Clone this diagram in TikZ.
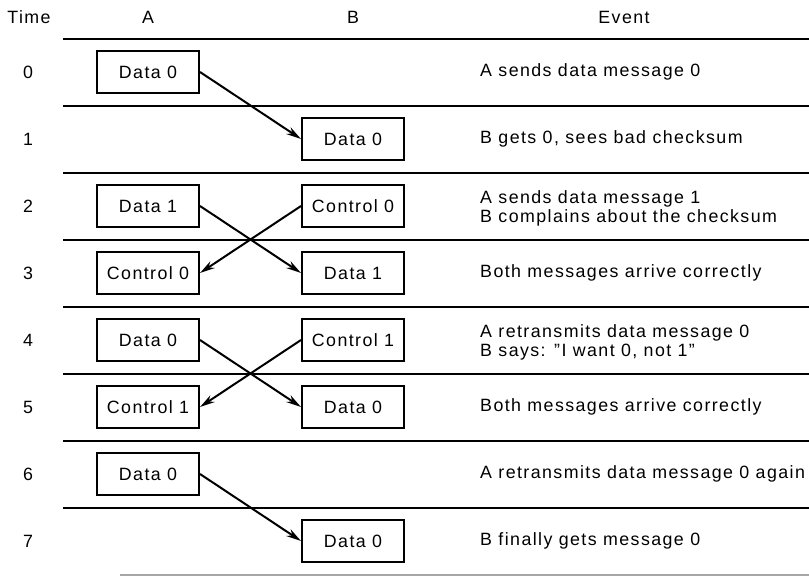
\documentclass[tikz,border=0pt]{standalone}
\usepackage{fontspec}
\setmainfont{Liberation Sans}[LetterSpace=8]
\usetikzlibrary{arrows.meta}
\begin{document}
\begin{tikzpicture}[x=1pt,y=-1pt,
  txt/.style={font=\fontsize{17.8}{19}\selectfont,inner sep=0pt},
  msg/.style={txt,draw,line width=2pt,minimum width=102pt,minimum height=42pt},
  evt/.style={txt,anchor=west,align=left},
  rule/.style={line width=1.6pt},
  arr/.style={line width=2pt,-{Stealth[length=15pt,width=8pt]}}]
\useasboundingbox (0,0) rectangle (809,577);
% headers
\node[txt] (hT) at (29,17) {Time};
\node[txt] (hA) at (148,17) {A};
\node[txt] (hB) at (353,17) {B};
\node[txt] (hE) at (624,17) {Event};
% rules
\foreach \i in {0,...,7}{
  \draw[rule] (63,{39+67*\i}) -- (809,{39+67*\i});
}
\draw[line width=1.4pt,black!35] (120,575) -- (809,575);
% time labels
\foreach \i in {0,...,7}{
  \node[txt] (t\i) at (28,{72+67*\i}) {\i};
}
% boxes
\node[msg] (a0) at (148,72) {Data 0};
\node[msg] (b1) at (353,139) {Data 0};
\node[msg] (a2) at (148,206) {Data 1};
\node[msg] (b2) at (353,206) {Control 0};
\node[msg] (a3) at (148,273) {Control 0};
\node[msg] (b3) at (353,273) {Data 1};
\node[msg] (a4) at (148,340) {Data 0};
\node[msg] (b4) at (353,340) {Control 1};
\node[msg] (a5) at (148,407) {Control 1};
\node[msg] (b5) at (353,407) {Data 0};
\node[msg] (a6) at (148,474) {Data 0};
\node[msg] (b7) at (353,541) {Data 0};
% arrows
\draw[arr] (a0.east) -- (b1.west);
\draw[arr] (a2.east) -- (b3.west);
\draw[arr] (b2.west) -- (a3.east);
\draw[arr] (a4.east) -- (b5.west);
\draw[arr] (b4.west) -- (a5.east);
\draw[arr] (a6.east) -- (b7.west);
% events
\node[evt] (e0) at (480,72) {A sends data message 0};
\node[evt] (e1) at (480,139) {B gets 0, sees bad checksum};
\node[evt] (e2) at (480,208) {A sends data message 1\\B complains about the checksum};
\node[evt] (e3) at (480,273) {Both messages arrive correctly};
\node[evt] (e4) at (480,342) {A retransmits data message 0\\B says: ”I want 0, not 1”};
\node[evt] (e5) at (480,407) {Both messages arrive correctly};
\node[evt] (e6) at (480,474) {A retransmits data message 0 again};
\node[evt] (e7) at (480,541) {B finally gets message 0};
\end{tikzpicture}
\end{document}
